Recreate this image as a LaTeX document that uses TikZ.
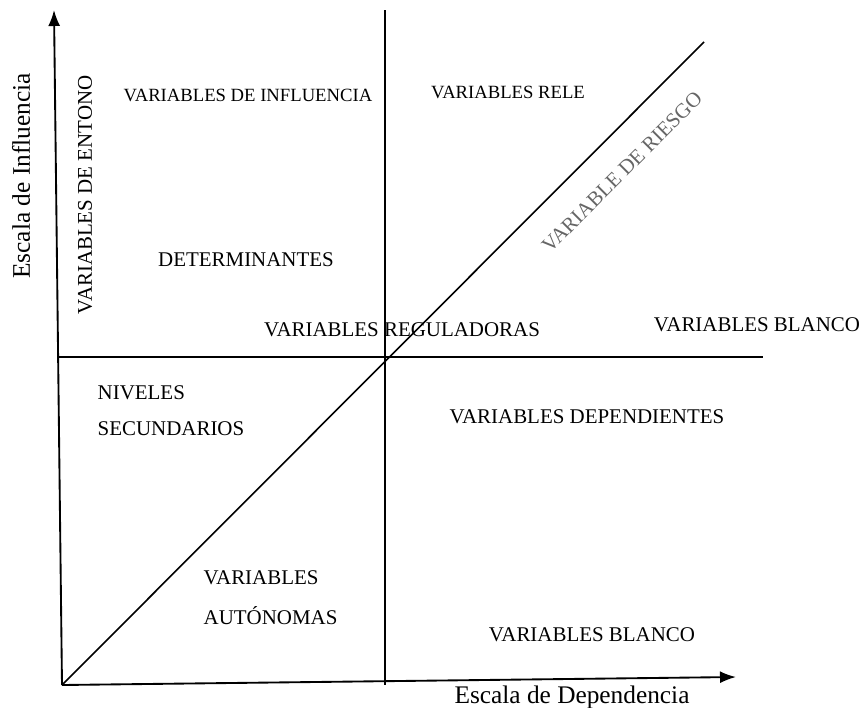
\documentclass[tikz,border=0pt]{standalone}
\usepackage{fontspec}
\setmainfont{Liberation Serif}
\usetikzlibrary{arrows.meta}
\begin{document}
\begin{tikzpicture}[x=0.75pt,y=-0.75pt,
	txt/.style={font=\fontsize{15.7}{18}\selectfont},
	smalltxt/.style={font=\fontsize{14}{16}\selectfont},
	axislbl/.style={font=\fontsize{19}{22}\selectfont},
	axis/.style={line width=1.4pt,-{Latex[length=12pt,width=9pt]}},
	split/.style={line width=1.4pt}]
	\useasboundingbox (0,0) rectangle (866,707);
	% axes and quadrant lines
	\coordinate (o) at (62,685);
	\coordinate (ytop) at (54,10);
	\coordinate (xend) at (736,677);
	\coordinate (vtop) at (385,10);
	\coordinate (vbot) at (385,685);
	\coordinate (hleft) at (58,357);
	\coordinate (hright) at (763,357);
	\coordinate (dend) at (704,42);
	\draw[axis] (o) -- (ytop);
	\draw[axis] (o) -- (xend);
	\draw[split] (vtop) -- (vbot);
	\draw[split] (hleft) -- (hright);
	\draw[line width=1.2pt] (o) -- (dend);
	% labels
	\node[axislbl,rotate=90] (infl) at (21,176) {Escala de Influencia};
	\node[axislbl] (dep) at (572,697) {Escala de Dependencia};
	\node[txt,rotate=90] (entono) at (85,195) {VARIABLES DE ENTONO};
	\node[smalltxt] (influ) at (248,95) {VARIABLES DE INFLUENCIA};
	\node[smalltxt] (rele) at (508,92) {VARIABLES RELE};
	\node[txt,text=black!60,rotate=45] (riesgo) at (622,172) {VARIABLE DE RIESGO};
	\node[txt] (determ) at (246,260) {DETERMINANTES};
	\node[txt] (regul) at (402,330) {VARIABLES REGULADORAS};
	\node[txt] (blanco1) at (757,325) {VARIABLES BLANCO};
	\node[txt,anchor=west] (niv) at (93,393) {NIVELES};
	\node[txt,anchor=west] (secund) at (93,429) {SECUNDARIOS};
	\node[txt] (depend) at (587,417) {VARIABLES DEPENDIENTES};
	\node[txt,anchor=west] (auto1) at (199,578) {VARIABLES};
	\node[txt,anchor=west] (auto2) at (199,616) {AUTÓNOMAS};
	\node[txt] (blanco2) at (592,635) {VARIABLES BLANCO};
\end{tikzpicture}
\end{document}
